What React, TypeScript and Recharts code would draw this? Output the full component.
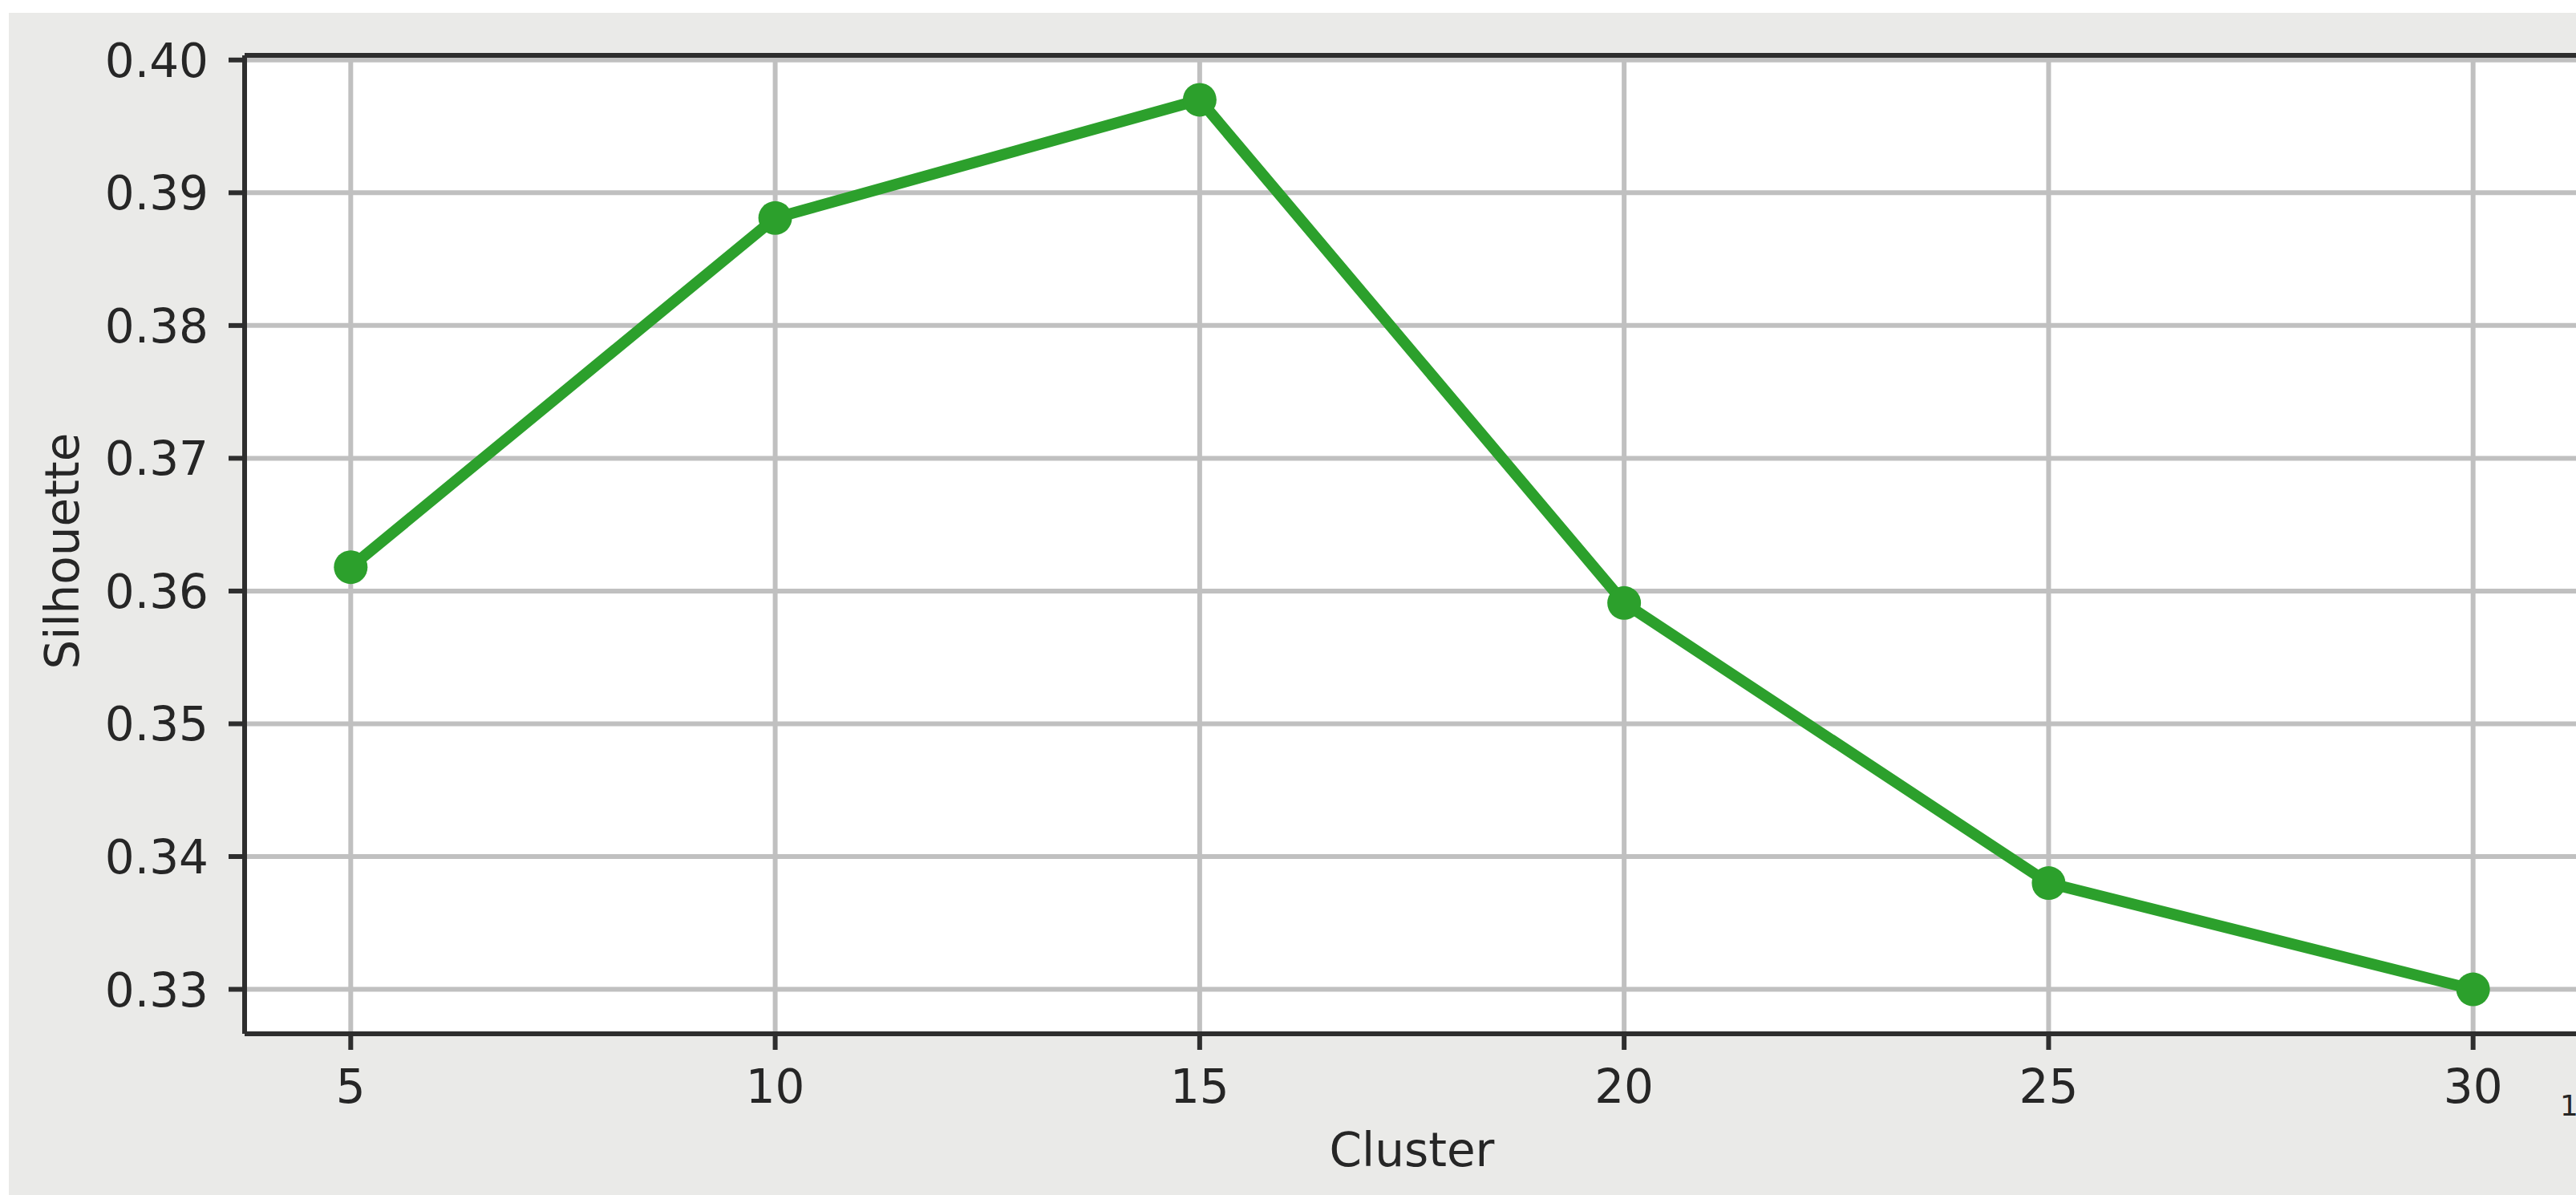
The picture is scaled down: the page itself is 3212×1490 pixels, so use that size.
import React from 'react';
import { LineChart, Line, XAxis, YAxis, CartesianGrid, Label, ReferenceLine } from 'recharts';

// Silhouette score per number of clusters
const clusters = [5, 10, 15, 20, 25, 30];
const silhouette = [0.3618, 0.3881, 0.397, 0.3591, 0.338, 0.33];

const xTicks = [5, 10, 15, 20, 25, 30];
const yTicks = [0.33, 0.34, 0.35, 0.36, 0.37, 0.38, 0.39, 0.4];
const xDomain: [number, number] = [3.75, 31.25];
const yDomain: [number, number] = [0.32665, 0.40035];

const data = clusters.map((c, i) => ({ cluster: c, silhouette: silhouette[i] }));

const FONT = '"DejaVu Sans", "Noto Sans", sans-serif';
const INK = '#262626';
const SPINE = '#2e2e2e';
const GRID = '#c0c0c0';
const GREEN = '#2ca02c';
const FIG_BG = '#eaeae8';

function XTick(props: any) {
  const { x, y, payload } = props;
  return (
    <text x={x} y={y} dy={64} textAnchor="middle" fontFamily={FONT} fontSize={58} fill={INK}>
      {payload.value}
    </text>
  );
}

function YTick(props: any) {
  const { x, y, payload } = props;
  return (
    <text x={x} y={y} dx={-23} dy={21} textAnchor="end" fontFamily={FONT} fontSize={58} fill={INK}>
      {Number(payload.value).toFixed(2)}
    </text>
  );
}

export default function App() {
  return (
    <div
      style={{
        position: 'fixed',
        left: 0,
        top: 0,
        width: 3212,
        height: 1490,
        overflow: 'hidden',
        background: '#ffffff',
      }}
    >
      <div style={{ position: 'absolute', left: 11, top: 16, right: 0, bottom: 0, background: FIG_BG }} />
      <div style={{ position: 'absolute', left: 0, top: 0 }}>
        <LineChart
          width={3230}
          height={1490}
          data={data}
          margin={{ top: 69, left: 5, right: 14, bottom: 11 }}
        >
          <CartesianGrid stroke={GRID} strokeWidth={6} fill="#ffffff" />
          <XAxis
            dataKey="cluster"
            type="number"
            domain={xDomain}
            ticks={xTicks}
            allowDataOverflow
            height={190}
            tickSize={20}
            tickLine={{ stroke: SPINE, strokeWidth: 6 }}
            axisLine={{ stroke: SPINE, strokeWidth: 6 }}
            tick={<XTick />}
          >
            <Label
              content={(p: any) => {
                const vb = p.viewBox;
                return (
                  <text
                    x={vb.x + vb.width / 2}
                    y={vb.y + 165}
                    textAnchor="middle"
                    fontFamily={FONT}
                    fontSize={58}
                    fill={INK}
                  >
                    Cluster
                  </text>
                );
              }}
            />
          </XAxis>
          <YAxis
            type="number"
            domain={yDomain}
            ticks={yTicks}
            allowDataOverflow
            width={300}
            tickSize={20}
            tickLine={{ stroke: SPINE, strokeWidth: 6 }}
            axisLine={{ stroke: SPINE, strokeWidth: 6 }}
            tick={<YTick />}
          >
            <Label
              content={(p: any) => {
                const vb = p.viewBox;
                const cx = 98;
                const cy = vb.y + vb.height / 2 + 8;
                return (
                  <text
                    x={cx}
                    y={cy}
                    transform={`rotate(-90 ${cx} ${cy})`}
                    textAnchor="middle"
                    fontFamily={FONT}
                    fontSize={58}
                    fill={INK}
                  >
                    Silhouette
                  </text>
                );
              }}
            />
          </YAxis>
          {/* top edge of the axes frame */}
          <ReferenceLine y={yDomain[1]} stroke={SPINE} strokeWidth={6} />
          <Line
            type="linear"
            dataKey="silhouette"
            stroke={GREEN}
            strokeWidth={14}
            dot={{ r: 21, fill: GREEN, stroke: 'none' }}
            activeDot={false}
            isAnimationActive={false}
          />
        </LineChart>
      </div>
      <div
        style={{
          position: 'absolute',
          left: 3192,
          top: 1359,
          fontFamily: FONT,
          fontSize: 36,
          lineHeight: '40px',
          color: INK,
        }}
      >
        1
      </div>
    </div>
  );
}
